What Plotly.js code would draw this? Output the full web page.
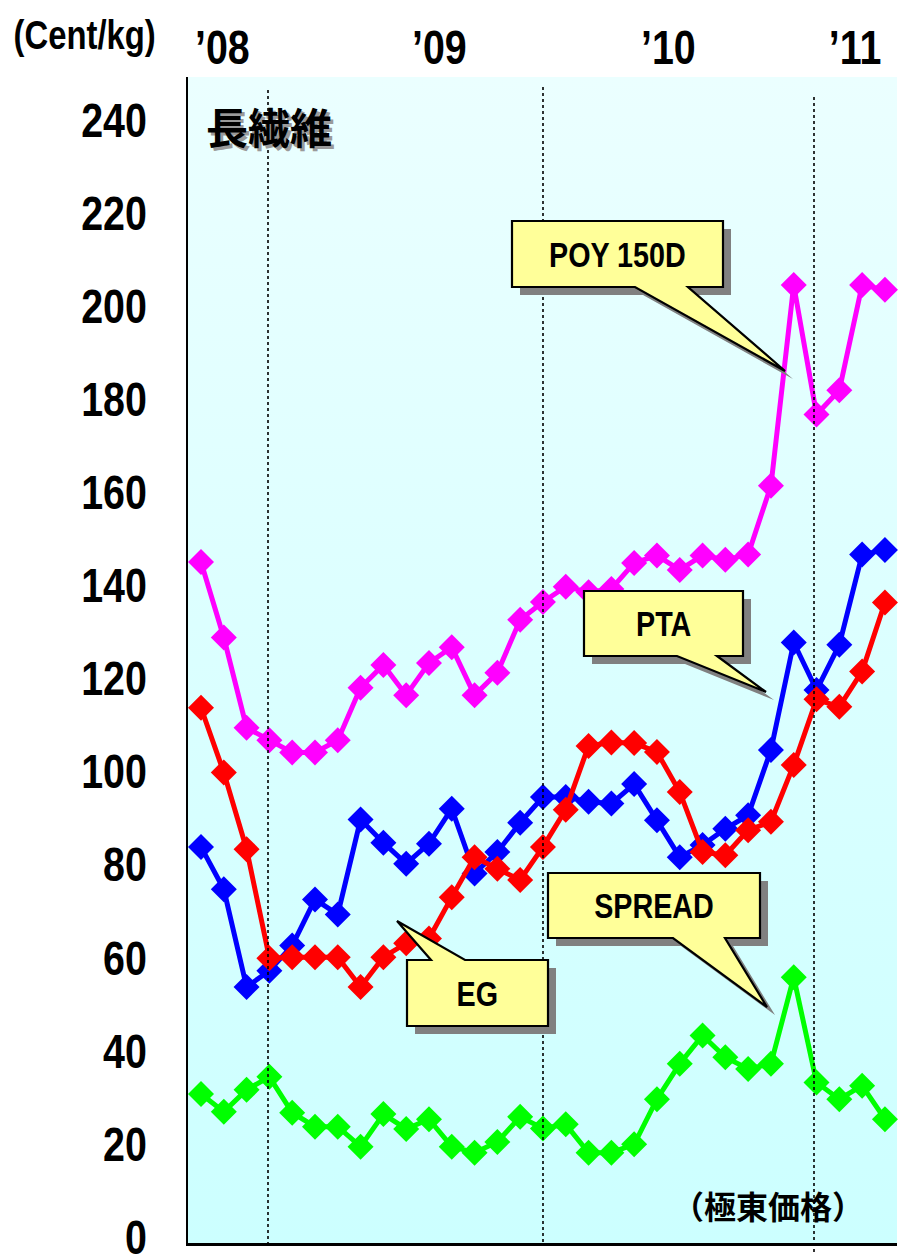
<!DOCTYPE html>
<html><head><meta charset="utf-8">
<script src="https://cdn.plot.ly/plotly-3.0.1.min.js"></script>
<style>html,body{margin:0;padding:0;background:#fff}#chart{width:908px;height:1255px}</style>
</head><body><div id="chart"></div>
<script>
// ---- data (cent/kg), monthly points ----
const months = [0,1,2,3,4,5,6,7,8,9,10,11,12,13,14,15,16,17,18,19,20,21,22,23,24,25,26,27,28,29,30];
const poy150d = [146.3,130.1,110.7,108.0,105.4,105.4,108.0,119.3,124.2,117.7,124.6,128.0,117.7,122.5,133.9,137.7,141.0,139.8,140.5,146.1,147.7,144.6,147.7,146.8,147.9,162.7,205.8,178.0,183.2,205.8,204.8];
const pta      = [85.1,76.0,55.0,58.5,63.9,73.8,70.6,91.0,86.0,81.5,85.8,93.3,79.4,84.0,90.3,95.8,95.8,94.8,94.4,98.6,90.8,82.9,85.5,89.0,91.9,105.9,129.0,118.8,128.5,147.9,148.9];
const eg       = [115.0,101.1,84.6,61.2,61.4,61.4,61.4,55.0,61.4,64.4,65.4,74.3,82.9,80.4,78.0,85.1,93.1,106.8,107.5,107.4,105.5,96.9,84.0,83.3,88.7,90.5,102.7,116.8,115.2,122.8,137.6];
const spread   = [32.0,28.2,32.9,35.7,28.0,25.0,25.0,20.7,27.7,24.5,26.6,20.7,19.4,21.7,27.1,24.6,25.5,19.4,19.4,21.2,30.9,38.5,44.6,39.9,37.4,38.5,57.1,34.5,30.9,33.8,26.6];
const yTickVals = [0,20,40,60,80,100,120,140,160,180,200,220,240];
const yearLabels = ['’08','’09','’10','’11'];
const seriesNames = ['POY 150D','PTA','EG','SPREAD'];

// ---- layout geometry ----
const W=908,H=1255,L=188,R=11,T=77,B=12;
const PW=W-L-R, PH=H-T-B;
const px = x => (x-L)/PW;
const py = y => (H-B-y)/PH;
const X_RANGE=[-0.57,30.53], Y_RANGE=[0,250.5];
const NARROW = '"Liberation Sans Narrow", "Arial Narrow", "Liberation Sans", Arial, sans-serif';
const CJK = '"Noto Sans CJK JP", "Noto Sans CJK SC", sans-serif';
const SQUEEZE = 0.82;

function lineTrace(name, y, color){
  return {type:'scatter', mode:'lines+markers', name:name, x:months, y:y,
    line:{color:color, width:5}, marker:{symbol:'diamond', size:20, color:color}, cliponaxis:false};
}
const bg = {type:'scatter', x:[X_RANGE[0],X_RANGE[1],X_RANGE[1],X_RANGE[0]], y:[Y_RANGE[0],Y_RANGE[0],Y_RANGE[1],Y_RANGE[1]],
  fill:'toself', mode:'none', hoverinfo:'skip', showlegend:false,
  fillgradient:{type:'vertical', colorscale:[[0,'#CCFFFF'],[0.5,'#DBFFFF'],[1,'#EBFFFF']]}};

const traces = [bg,
  lineTrace(seriesNames[0], poy150d, '#FF00FF'),
  lineTrace(seriesNames[1], pta, '#0000FF'),
  lineTrace(seriesNames[2], eg, '#FF0000'),
  lineTrace(seriesNames[3], spread, '#00FF00')];

// callout path builder (pixel coords -> paper)
function calloutPath(box, ptr, dx, dy){
  const [x0,y0,x1,y1]=box.map((v,i)=> v + (i%2===0?dx:dy));
  const b0=ptr.b0+dx, b1=ptr.b1+dx, tx=ptr.tip[0]+dx, ty=ptr.tip[1]+dy;
  let pts;
  if(ptr.side==='bottom'){
    pts=[[x0,y0],[x1,y0],[x1,y1],[b1,y1],[tx,ty],[b0,y1],[x0,y1]];
  } else {
    pts=[[x0,y0],[b0,y0],[tx,ty],[b1,y0],[x1,y0],[x1,y1],[x0,y1]];
  }
  return 'M '+pts.map(p=>px(p[0]).toFixed(5)+','+py(p[1]).toFixed(5)).join(' L ')+' Z';
}
const callouts = [
  {text:'POY 150D', box:[512,221,723,287], ptr:{side:'bottom', b0:635, b1:688, tip:[785,371]}},
  {text:'PTA', box:[584,591,743,656], ptr:{side:'bottom', b0:677, b1:717, tip:[766,692]}},
  {text:'SPREAD', box:[548,873,760,938], ptr:{side:'bottom', b0:673, b1:725, tip:[767,1007]}},
  {text:'EG', box:[407,960,548,1026], ptr:{side:'top', b0:431, b1:465, tip:[397,921]}}
];

const shapes = [];
// dotted vertical lines
[[268,90,1243],[543,87,1243],[814,97,1252]].forEach(([x,ya,yb])=>{
  shapes.push({type:'line', xref:'paper', yref:'paper', x0:px(x), x1:px(x), y0:py(ya), y1:py(yb),
    line:{color:'#000', width:1.6, dash:'dot'}, layer:'above'});
});
callouts.forEach(c=>{
  shapes.push({type:'path', xref:'paper', yref:'paper', path:calloutPath(c.box,c.ptr,8,8),
    fillcolor:'#808080', line:{width:0}, layer:'above'});
  shapes.push({type:'path', xref:'paper', yref:'paper', path:calloutPath(c.box,c.ptr,0,0),
    fillcolor:'#FFFF99', line:{color:'#000', width:2.2}, layer:'above'});
});

const annotations = [];
callouts.forEach(c=>{
  annotations.push({xref:'paper', yref:'paper', x:px((c.box[0]+c.box[2])/2), y:py((c.box[1]+c.box[3])/2),
    text:c.text, showarrow:false, xanchor:'center', yanchor:'middle',
    font:{family:NARROW, size:35, color:'#000', weight:'bold'}});
});
const yearX=[222,439,668,855];
yearLabels.forEach((t,i)=>{
  annotations.push({xref:'paper', yref:'paper', x:px(yearX[i]), y:py(48), text:t, showarrow:false,
    xanchor:'center', yanchor:'middle', font:{family:NARROW, size:48, color:'#000', weight:'bold'}});
});
annotations.push({xref:'paper', yref:'paper', x:px(84), y:py(35), text:'(Cent/kg)', showarrow:false,
  xanchor:'center', yanchor:'middle', font:{family:NARROW, size:40, color:'#000', weight:'bold'}});
// 長繊維 with shadow
annotations.push({xref:'paper', yref:'paper', x:px(204), y:py(125), text:'長繊維', showarrow:false,
  xanchor:'left', yanchor:'middle', font:{family:CJK, size:42, color:'#000', weight:'bold', shadow:'3px 3px 0px #9a9a9a'}});
annotations.push({xref:'paper', yref:'paper', x:px(768), y:py(1205), text:'（極東価格）', showarrow:false,
  xanchor:'center', yanchor:'middle', font:{family:CJK, size:32, color:'#000', weight:'bold'}});

const layout = {
  width:W, height:H, margin:{l:L, r:R, t:T, b:B, pad:0},
  paper_bgcolor:'#FFFFFF', plot_bgcolor:'rgba(0,0,0,0)', showlegend:false,
  xaxis:{type:'linear', range:X_RANGE, showgrid:false, zeroline:false, showticklabels:false, ticks:'',
    showline:true, linecolor:'#000', linewidth:3, fixedrange:true},
  yaxis:{range:Y_RANGE, tickvals:yTickVals, showgrid:false, zeroline:false, ticks:'',
    showline:true, linecolor:'#000', linewidth:2.5, ticklabelstandoff:29, ticklabeloverflow:'allow',
    ticklabelshift:-6,
    tickfont:{family:NARROW, size:48, color:'#000', weight:'bold'}, fixedrange:true},
  shapes:shapes, annotations:annotations
};

// emulate a narrow bold face (Arial Narrow-like) by condensing glyphs when no narrow font is installed
function condense(){
  const nodes = document.querySelectorAll('#chart .ytick text, #chart .annotation-text');
  nodes.forEach(t=>{
    const fam = (t.style.fontFamily||'') + (t.getAttribute('style')||'');
    if(!/Narrow/.test(fam)) return;
    const len = t.getComputedTextLength();
    if(len>0){ t.setAttribute('textLength', (len*SQUEEZE).toFixed(2)); t.setAttribute('lengthAdjust','spacingAndGlyphs'); }
  });
}
Plotly.newPlot('chart', traces, layout, {staticPlot:true, displayModeBar:false}).then(condense);
</script>
</body></html>
